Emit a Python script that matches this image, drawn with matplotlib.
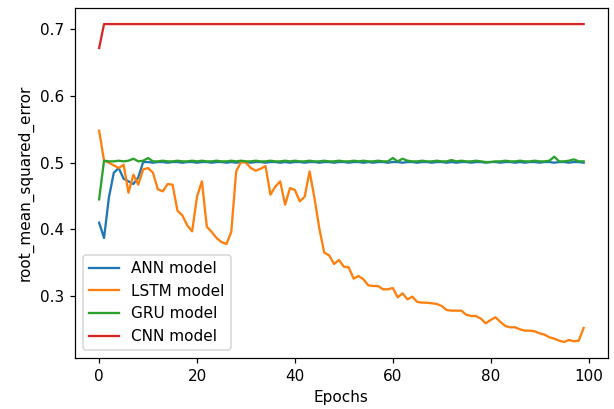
import numpy as np
import matplotlib.pyplot as plt

# rmse per epoch
epochs = np.arange(100)

ann_rmse = [0.410, 0.387, 0.448, 0.485, 0.492, 0.476, 0.472, 0.468, 0.478, 0.501,
            0.501, 0.500, 0.501, 0.501, 0.500, 0.501, 0.501, 0.500, 0.501, 0.501,
            0.500, 0.501, 0.501, 0.500, 0.501, 0.501, 0.500, 0.501, 0.500, 0.501,
            0.501, 0.500, 0.501, 0.501, 0.500, 0.501, 0.501, 0.500, 0.501, 0.500,
            0.501, 0.501, 0.500, 0.501, 0.501, 0.500, 0.501, 0.501, 0.500, 0.501,
            0.501, 0.500, 0.501, 0.501, 0.500, 0.501, 0.500, 0.501, 0.501, 0.500,
            0.501, 0.501, 0.500, 0.501, 0.501, 0.500, 0.501, 0.501, 0.500, 0.501,
            0.501, 0.500, 0.501, 0.500, 0.501, 0.501, 0.500, 0.501, 0.501, 0.500,
            0.501, 0.501, 0.500, 0.501, 0.501, 0.500, 0.501, 0.500, 0.501, 0.501,
            0.500, 0.501, 0.501, 0.500, 0.501, 0.501, 0.500, 0.501, 0.501, 0.500]

lstm_rmse = [0.548, 0.503, 0.500, 0.496, 0.492, 0.497, 0.455, 0.482, 0.467, 0.490,
             0.492, 0.485, 0.460, 0.457, 0.468, 0.467, 0.428, 0.421, 0.406, 0.397,
             0.449, 0.472, 0.404, 0.396, 0.387, 0.381, 0.378, 0.396, 0.487, 0.501,
             0.500, 0.492, 0.488, 0.491, 0.495, 0.452, 0.464, 0.472, 0.437, 0.462,
             0.459, 0.442, 0.449, 0.487, 0.447, 0.401, 0.365, 0.361, 0.348, 0.354,
             0.344, 0.343, 0.326, 0.330, 0.325, 0.316, 0.315, 0.315, 0.310, 0.310,
             0.312, 0.298, 0.304, 0.295, 0.299, 0.291, 0.290, 0.290, 0.289, 0.288,
             0.285, 0.279, 0.278, 0.278, 0.278, 0.272, 0.270, 0.270, 0.266, 0.259,
             0.264, 0.268, 0.261, 0.255, 0.253, 0.253, 0.250, 0.248, 0.248, 0.247,
             0.244, 0.242, 0.238, 0.236, 0.233, 0.231, 0.234, 0.232, 0.233, 0.252]

gru_rmse = [0.445, 0.503, 0.502, 0.502, 0.503, 0.502, 0.503, 0.506, 0.502, 0.503,
            0.507, 0.502, 0.502, 0.503, 0.502, 0.502, 0.503, 0.502, 0.502, 0.503,
            0.502, 0.503, 0.502, 0.502, 0.503, 0.502, 0.502, 0.503, 0.502, 0.503,
            0.502, 0.502, 0.503, 0.502, 0.502, 0.503, 0.502, 0.502, 0.503, 0.502,
            0.503, 0.502, 0.502, 0.503, 0.502, 0.502, 0.503, 0.502, 0.502, 0.503,
            0.502, 0.502, 0.503, 0.502, 0.503, 0.502, 0.502, 0.503, 0.502, 0.502,
            0.507, 0.502, 0.506, 0.503, 0.502, 0.502, 0.503, 0.502, 0.502, 0.503,
            0.502, 0.502, 0.504, 0.502, 0.503, 0.502, 0.502, 0.503, 0.502, 0.501,
            0.501, 0.502, 0.502, 0.503, 0.502, 0.502, 0.503, 0.502, 0.502, 0.503,
            0.502, 0.502, 0.503, 0.509, 0.502, 0.502, 0.503, 0.505, 0.502, 0.502]

cnn_rmse = [0.672] + [0.708] * 99

labels = ['ANN model', 'LSTM model', 'GRU model', 'CNN model']

# notebook-style figure (72 dpi) blown up ~1.5x -> render at 110 dpi
fig = plt.figure(figsize=(614 / 110, 409 / 110), dpi=110)
ax = fig.add_axes([0.122, 0.125, 0.868, 0.855])

for vals, lab in zip([ann_rmse, lstm_rmse, gru_rmse, cnn_rmse], labels):
    ax.plot(epochs, vals, label=lab)

ax.set_xlabel('Epochs')
ax.set_ylabel('root_mean_squared_error')
ax.legend(loc='lower left')

fig.savefig('out.png')
